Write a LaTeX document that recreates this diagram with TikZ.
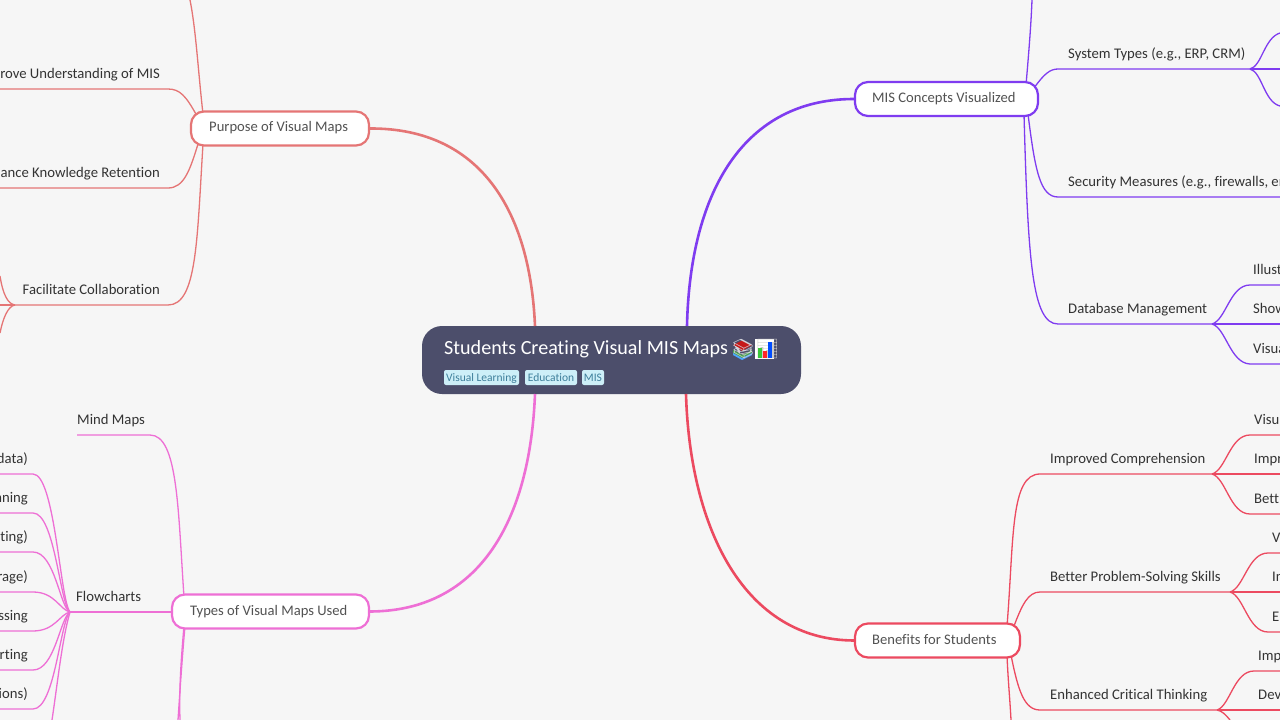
\documentclass[tikz,border=0pt]{standalone}
\usepackage{fontspec}
\setmainfont[Ligatures=NoCommon]{Carlito}
\newfontfamily\emojifont{Noto Emoji}
\definecolor{bgc}{HTML}{F6F6F6}
\definecolor{rootc}{HTML}{4C4E6B}
\definecolor{redc}{HTML}{E57575}
\definecolor{purc}{HTML}{7F3CF0}
\definecolor{pinkc}{HTML}{EE6FD5}
\definecolor{crimc}{HTML}{EC4A60}
\definecolor{txtc}{HTML}{333333}
\definecolor{tagf}{HTML}{CDEFF8}
\definecolor{tagt}{HTML}{3E7F9B}
\tikzset{
 x=1pt,y=-1pt,
 branchbox/.style={draw=#1,line width=2.2pt,fill=white,rounded corners=13pt,minimum height=34pt,inner sep=0pt},
 branchtext/.style={anchor=base west,inner sep=0pt,text=txtc!85,font=\fontsize{14.6}{14.6}\selectfont},
 leaf/.style={anchor=south west,inner xsep=0pt,inner ysep=0pt,text height=11pt,text depth=10.5pt,text=txtc,align=flush left,font=\fontsize{14.7}{14.7}\selectfont},
 leafr/.style={leaf,anchor=south east,align=flush right},
 taglabel/.style={fill=tagf,text=tagt,rounded corners=2pt,minimum height=15pt,inner sep=0pt,text height=10pt,text depth=2.5pt,font=\fontsize{11.5}{11.5}\selectfont},
 thick link/.style={draw=#1,line width=2.6pt},
 thin link/.style={draw=#1,line width=1.3pt},
}
\begin{document}
\begin{tikzpicture}
\useasboundingbox (0,0) rectangle (1280,720);
\clip (0,0) rectangle (1280,720);
\fill[bgc] (0,0) rectangle (1280,720);
\coordinate (topL) at (190,0);
\coordinate (topR) at (1032,0);
\coordinate (botC) at (1011,720);
\coordinate (botP1) at (178,720);
\coordinate (botP2) at (180,720);
\coordinate (botP3) at (52,720);
\coordinate (botE) at (1230,720);

% root
\node[fill=rootc,rounded corners=20pt,minimum width=379pt,minimum height=68pt,inner sep=0pt] (root) at (611.5,360) {};
\node[anchor=base west,inner sep=0pt,text=white,font=\fontsize{20.1}{20.1}\selectfont] (title) at (444,354) {Students Creating Visual MIS Maps};
% colour fills of the two pictographs
\fill[white] (755,339) rectangle (774,359);
\fill[red!75!black!90] (733,345) -- (743,340) -- (752,345) -- (742,351) -- cycle;
\fill[green!50!black!70] (733,350) -- (742,355) -- (752,350) -- (752,353) -- (742,358) -- (733,353) -- cycle;
\fill[blue!50!cyan!70] (733,353) -- (742,358) -- (752,353) -- (752,355) -- (742,360) -- (733,355) -- cycle;
\node[anchor=west,inner sep=0pt,text=white,font=\fontsize{19}{19}\selectfont] (emoji) at (731,349) {\emojifont{\color{white!75!rootc}📚}{\color{gray!40}📊}};
\fill[green!55!gray] (758,348) rectangle (761.5,358);
\fill[red!85!white] (763,351) rectangle (766.5,358);
\fill[blue!70!cyan] (768,342) rectangle (771.5,358);
\node[taglabel,minimum width=75pt] (t1) at (481.5,377.5) {Visual Learning};
\node[taglabel,minimum width=52pt] (t2) at (551,377.5) {Education};
\node[taglabel,minimum width=22pt] (t3) at (593,377.5) {MIS};

\coordinate (rTL) at (535,326);
\coordinate (rTR) at (687,326);
\coordinate (rBL) at (535,394);
\coordinate (rBR) at (686,394);

% leaves
\node[leafr,text width=220pt] (imp) at (160,89) {\mbox{Improve Understanding of MIS}};
\node[leafr,text width=220pt] (enh) at (160,188) {\mbox{Enhance Knowledge Retention}};
\node[leafr,text width=145pt] (fac) at (160,305) {\mbox{Facilitate Collaboration}};
\coordinate (facL) at (0,305);
\coordinate (fac1) at (0,276);
\coordinate (fac2) at (0,333);

\node[leaf,text width=177pt] (sys) at (1068,69) {\mbox{System Types (e.g., ERP, CRM)}};
\node[leaf,text width=300pt] (sec) at (1068,197) {\mbox{Security Measures (e.g., firewalls, encryption)}};
\node[leaf,text width=138pt] (dbm) at (1068,324) {\mbox{Database Management}};
\node[leaf,text width=157pt] (icp) at (1050,474) {\mbox{Improved Comprehension}};
\node[leaf,text width=174pt] (bps) at (1050,592) {\mbox{Better Problem-Solving Skills}};
\node[leaf,text width=161pt] (ect) at (1050,710) {\mbox{Enhanced Critical Thinking}};
\node[leaf,text width=66pt] (mm) at (77,435) {\mbox{Mind Maps}};
\node[leaf,text width=66pt] (fl) at (76,612) {\mbox{Flowcharts}};

\node[leaf,text width=50pt] (d1) at (1253,285) {Illust};
\node[leaf,text width=50pt] (d2) at (1253,324) {Show};
\node[leaf,text width=50pt] (d3) at (1253,364) {Visua};
\node[leaf,text width=50pt] (i1) at (1254,435) {Visu};
\node[leaf,text width=50pt] (i2) at (1254,474) {Impr};
\node[leaf,text width=50pt] (i3) at (1254,514) {Bett};
\node[leaf,text width=50pt] (b1) at (1272,553) {V};
\node[leaf,text width=50pt] (b2) at (1272,592) {In};
\node[leaf,text width=50pt] (b3) at (1272,632) {E};
\node[leaf,text width=50pt] (e1) at (1258,671) {Imp};
\node[leaf,text width=50pt] (e2) at (1258,710) {Dev};
\coordinate (s1) at (1280,33);
\coordinate (s2) at (1280,69);
\coordinate (s3) at (1280,106);

\node[leafr,text width=50pt] (f1) at (28,474) {data)};
\node[leafr,text width=50pt] (f2) at (28,513) {nning};
\node[leafr,text width=50pt] (f3) at (28,552) {ting)};
\node[leafr,text width=50pt] (f4) at (28,592) {rage)};
\node[leafr,text width=50pt] (f5) at (28,631) {ssing};
\node[leafr,text width=50pt] (f6) at (28,670) {rting};
\node[leafr,text width=50pt] (f7) at (28,709) {ions)};

\coordinate (fS) at (1250,69);
\coordinate (fD) at (1212,324);
\coordinate (fI) at (1212,474);
\coordinate (fB) at (1230,592);
\coordinate (fE) at (1217,710);
\coordinate (fF) at (70,612);
\coordinate (fC) at (15,305);

% thin links first
\draw[thin link=redc] (203,114) .. controls (198,70) and (196,30) .. (topL);
\draw[thin link=redc] (197,116) .. controls (186,96) and (180,89) .. (168,89) -- (imp.south west);
\draw[thin link=redc] (198,144) .. controls (190,170) and (184,188) .. (168,188) -- (enh.south west);
\draw[thin link=redc] (203,144) .. controls (197,240) and (197,305) .. (168,305) -- (fC);
\draw[thin link=redc] (fC) .. controls (10,305) and (5,305) .. (facL);
\draw[thin link=redc] (fC) .. controls (8,304) and (3,295) .. (fac1);
\draw[thin link=redc] (fC) .. controls (8,306) and (3,318) .. (fac2);

\draw[thin link=purc] (1026,85) .. controls (1029,50) and (1031,25) .. (topR);
\draw[thin link=purc] (1034,88) .. controls (1044,74) and (1050,69) .. (1058,69) -- (fS);
\draw[thin link=purc] (1028,114) .. controls (1035,170) and (1040,197) .. (1058,197) -- (sec.south east);
\draw[thin link=purc] (1024,114) .. controls (1028,260) and (1032,324) .. (1058,324) -- (fD);
\draw[thin link=purc] (fS) .. controls (1262,66) and (1264,38) .. (s1);
\draw[thin link=purc] (fS) .. controls (1260,69) and (1270,69) .. (s2);
\draw[thin link=purc] (fS) .. controls (1262,72) and (1264,102) .. (s3);
\draw[thin link=purc] (fD) .. controls (1226,320) and (1230,285) .. (1250,285) -- (d1.south east);
\draw[thin link=purc] (fD) .. controls (1230,324) and (1250,324) .. (d2.south east);
\draw[thin link=purc] (fD) .. controls (1226,328) and (1230,363) .. (1250,364) -- (d3.south east);

\draw[thin link=crimc] (1007,626) .. controls (1014,540) and (1010,474) .. (1040,474) -- (fI);
\draw[thin link=crimc] (1014,626) .. controls (1022,605) and (1028,592) .. (1040,592) -- (fB);
\draw[thin link=crimc] (1011,655) .. controls (1018,690) and (1024,710) .. (1040,710) -- (fE);
\draw[thin link=crimc] (1007,655) .. controls (1008,680) and (1010,700) .. (botC);
\draw[thin link=crimc] (fI) .. controls (1226,470) and (1230,435) .. (1250,435) -- (i1.south east);
\draw[thin link=crimc] (fI) .. controls (1230,474) and (1250,474) .. (i2.south east);
\draw[thin link=crimc] (fI) .. controls (1226,478) and (1230,514) .. (1250,514) -- (i3.south east);
\draw[thin link=crimc] (fB) .. controls (1244,588) and (1248,553) .. (1268,553) -- (b1.south east);
\draw[thin link=crimc] (fB) .. controls (1250,592) and (1270,592) .. (b2.south east);
\draw[thin link=crimc] (fB) .. controls (1244,596) and (1248,632) .. (1268,632) -- (b3.south east);
\draw[thin link=crimc] (fE) .. controls (1230,706) and (1234,671) .. (1254,671) -- (e1.south east);
\draw[thin link=crimc] (fE) .. controls (1235,710) and (1255,710) .. (e2.south east);
\draw[thin link=crimc] (fE) .. controls (1222,711) and (1225,714) .. (botE);

\draw[thin link=pinkc] (184,597) .. controls (178,510) and (178,435) .. (150,435) -- (mm.south west);
\draw[thin link=pinkc] (180,612) .. controls (140,612) and (100,612) .. (fF);
\draw[thin link=pinkc] (185,626) .. controls (182,660) and (180,690) .. (botP1);
\draw[thin link=pinkc] (184,626) .. controls (181,660) and (179,690) .. (botP2);
\foreach \n/\ya/\yb in {f1/474/600, f2/513/605, f3/552/608, f4/592/610, f5/631/614, f6/670/618, f7/709/622}{
  \draw[thin link=pinkc] (fF) .. controls (60,{\yb}) and (55,\ya) .. (33,\ya) -- (\n.south west);
}
\draw[thin link=pinkc] (fF) .. controls (62,640) and (58,680) .. (botP3);

% branches
\node[branchbox=redc,minimum width=178pt] (purpose) at (280,128.5) {};
\node[branchbox=purc,minimum width=183pt] (mis) at (946.5,99) {};
\node[branchbox=pinkc,minimum width=197pt] (types) at (270.5,611.5) {};
\node[branchbox=crimc,minimum width=165pt] (benefits) at (937.5,640.5) {};
\node[branchtext] (purposeT) at (209,131.5) {Purpose of Visual Maps};
\node[branchtext] (misT) at (872,102) {MIS Concepts Visualized};
\node[branchtext] (typesT) at (190,615) {Types of Visual Maps Used};
\node[branchtext] (benefitsT) at (872,644) {Benefits for Students};

\draw[thick link=redc] (purpose.east) .. controls (480,128) and (530,210) .. (rTL);
\draw[thick link=purc] (mis.west) .. controls (745,99) and (690,190) .. (rTR);
\draw[thick link=pinkc] (types.east) .. controls (480,611) and (530,520) .. (rBL);
\draw[thick link=crimc] (benefits.west) .. controls (745,640) and (690,530) .. (rBR);
\end{tikzpicture}
\end{document}
